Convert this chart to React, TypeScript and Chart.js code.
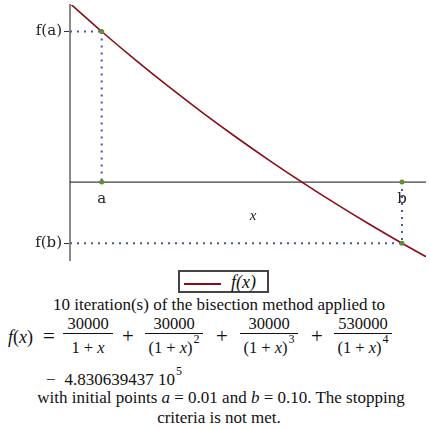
import React, { useEffect, useRef } from "react";
import { Chart, registerables } from "chart.js";

Chart.register(...registerables);

// Curve samples of f(x)
const xSamples = [0, 0.01, 0.02, 0.03, 0.04, 0.05, 0.06, 0.07, 0.08, 0.09, 0.1, 0.109];
const fSamples = [136936, 114485, 93090, 72693, 53235, 34666, 16935, 0, -16185, -31660, -46461, -59235];

// Bisection end points a, b and their function values
const endpointX = [0.01, 0.1];
const endpointF = [114485, -46461];
const endpointLabels = ["a", "b"];
const yTickLabels = ["f(a)", "f(b)"];

// View window
const xView = [0.0005, 0.1072];
const yView = [-59235, 134642];

const CURVE = "#8b0c18";
const DOTS = "#4a52b2";
const PTS = "#5f8f2e";
const SERIF = '"Liberation Serif", "Times New Roman", serif';

const labelPlugin = {
  id: "abLabels",
  afterDatasetsDraw(chart: any) {
    const { ctx, scales } = chart;
    const x = scales.x;
    const y = scales.y;
    const y0 = y.getPixelForValue(0);
    ctx.save();
    ctx.fillStyle = "#222";
    ctx.textAlign = "center";
    ctx.textBaseline = "middle";
    ctx.font = '15px "DejaVu Serif"';
    endpointX.forEach((v, i) => {
      ctx.fillText(endpointLabels[i], x.getPixelForValue(v), y0 + 17);
    });
    ctx.font = "italic 15px " + SERIF;
    ctx.fillText("x", x.getPixelForValue((xView[0] + 0.109) / 2) + 2, y0 + 34);
    ctx.restore();
  },
};

function ChartCanvas() {
  const ref = useRef<HTMLCanvasElement | null>(null);
  useEffect(() => {
    if (!ref.current) return;
    const [a, b] = endpointX;
    const [fa, fb] = endpointF;
    const dotted = (pts: { x: number; y: number }[]) => ({
      type: "line" as const,
      data: pts,
      borderColor: DOTS,
      borderWidth: 2,
      borderDash: [2, 5],
      borderCapStyle: "butt" as const,
      pointRadius: 0,
      fill: false,
      tension: 0,
    });
    const chart = new Chart(ref.current, {
      type: "line",
      data: {
        datasets: [
          {
            type: "scatter",
            data: [
              { x: a, y: fa },
              { x: a, y: 0 },
              { x: b, y: 0 },
              { x: b, y: fb },
            ],
            pointRadius: 2.5,
            pointBackgroundColor: PTS,
            pointBorderColor: PTS,
            pointBorderWidth: 0,
            showLine: false,
          } as any,
          {
            label: "f(x)",
            data: xSamples.map((v, i) => ({ x: v, y: fSamples[i] })),
            borderColor: CURVE,
            borderWidth: 1.6,
            pointRadius: 0,
            cubicInterpolationMode: "monotone",
            fill: false,
          },
          dotted([
            { x: xView[0], y: fa },
            { x: a, y: fa },
          ]),
          dotted([
            { x: a, y: fa },
            { x: a, y: 0 },
          ]),
          dotted([
            { x: b, y: 0 },
            { x: b, y: fb },
          ]),
          dotted([
            { x: xView[0], y: fb },
            { x: b, y: fb },
          ]),
          {
            data: [
              { x: xView[0], y: 0 },
              { x: xView[1], y: 0 },
            ],
            borderColor: "#111",
            borderWidth: 1,
            pointRadius: 0,
            fill: false,
          },
        ],
      },
      options: {
        animation: false,
        responsive: false,
        devicePixelRatio: 1,
        layout: { padding: { top: 5, bottom: 5, left: 0, right: 0 } },
        plugins: { legend: { display: false }, tooltip: { enabled: false } },
        scales: {
          x: {
            type: "linear",
            min: xView[0],
            max: xView[1],
            display: false,
          },
          y: {
            type: "linear",
            min: yView[0],
            max: yView[1],
            afterBuildTicks: (scale: any) => {
              scale.ticks = endpointF.map((v) => ({ value: v }));
            },
            afterFit: (scale: any) => {
              scale.width = 70;
              scale.paddingTop = 0;
              scale.paddingBottom = 0;
            },
            ticks: {
              callback: (_v: any, i: number) => yTickLabels[i],
              font: { family: "DejaVu Serif", size: 15 },
              color: "#222",
              padding: 2,
            },
            grid: { drawOnChartArea: false, tickLength: 6, color: "#333", tickWidth: 1 },
            border: { color: "#8a8a8a", width: 2 },
          },
        },
      },
      plugins: [labelPlugin],
    });
    return () => chart.destroy();
  }, []);
  return <canvas ref={ref} width={430} height={265} style={{ position: "absolute", left: 0, top: 0 }} />;
}

const txt: React.CSSProperties = {
  position: "absolute",
  fontFamily: SERIF,
  fontSize: 17,
  lineHeight: "18px",
  color: "#111",
  whiteSpace: "nowrap",
};

function Centered({ cy, cx, children }: { cy: number; cx: number; children: React.ReactNode }) {
  return (
    <div style={{ ...txt, left: cx - 250, width: 500, top: cy - 9, textAlign: "center" }}>{children}</div>
  );
}

function Sup({ children }: { children: React.ReactNode }) {
  return (
    <span style={{ fontSize: 12, position: "relative", top: -10, marginLeft: 1 }}>{children}</span>
  );
}

function Frac({ cx, num, den }: { cx: number; num: React.ReactNode; den: React.ReactNode }) {
  const w = cx < 100 ? 50 : 58;
  return (
    <div
      style={{
        ...txt,
        fontSize: 16.5,
        left: cx - w / 2,
        width: w,
        top: 315,
        display: "flex",
        flexDirection: "column",
        alignItems: "center",
      }}
    >
      <div style={{ lineHeight: "18px" }}>{num}</div>
      <div style={{ width: w, borderTop: "1px solid #111", marginTop: 0 }} />
      <div style={{ lineHeight: "18px", marginTop: 5 }}>{den}</div>
    </div>
  );
}

const I = ({ children }: { children: React.ReactNode }) => <i>{children}</i>;

const op: React.CSSProperties = { ...txt, fontSize: 21, top: 327 };

export default function App() {
  return (
    <div style={{ position: "fixed", left: 0, top: 0, width: 430, height: 430, background: "#fff", overflow: "hidden" }}>
      <ChartCanvas />
      {/* legend */}
      <div
        style={{
          position: "absolute",
          left: 178,
          top: 270,
          width: 87,
          height: 19,
          border: "2px solid #444",
          background: "#fff",
        }}
      >
        <div style={{ position: "absolute", left: 4, top: 11, width: 37, height: 2, background: CURVE }} />
        <div style={{ ...txt, left: 51, top: 1, fontSize: 18, fontStyle: "italic" }}>f(x)</div>
      </div>
      <Centered cx={219} cy={305}>10 iteration(s) of the bisection method applied to</Centered>
      <div style={{ ...txt, left: 8, top: 328, fontSize: 18 }}>
        <I>f</I>(<I>x</I>)
      </div>
      <div style={{ ...op, left: 43 }}>=</div>
      <Frac cx={88} num="30000" den={<span>1 + <I>x</I></span>} />
      <div style={{ ...op, left: 122 }}>+</div>
      <Frac cx={174} num="30000" den={<span>(1 + <I>x</I>)<Sup>2</Sup></span>} />
      <div style={{ ...op, left: 216 }}>+</div>
      <Frac cx={269} num="30000" den={<span>(1 + <I>x</I>)<Sup>3</Sup></span>} />
      <div style={{ ...op, left: 311 }}>+</div>
      <Frac cx={363} num="530000" den={<span>(1 + <I>x</I>)<Sup>4</Sup></span>} />
      <div style={{ ...txt, left: 46, top: 371 }}>
        −<span style={{ marginLeft: 9 }}>4.830639437 10</span>
        <Sup>5</Sup>
      </div>
      <Centered cx={221} cy={398}>
        with initial points <I>a</I> = 0.01 and <I>b</I> = 0.10. The stopping
      </Centered>
      <Centered cx={219} cy={418}>criteria is not met.</Centered>
    </div>
  );
}
